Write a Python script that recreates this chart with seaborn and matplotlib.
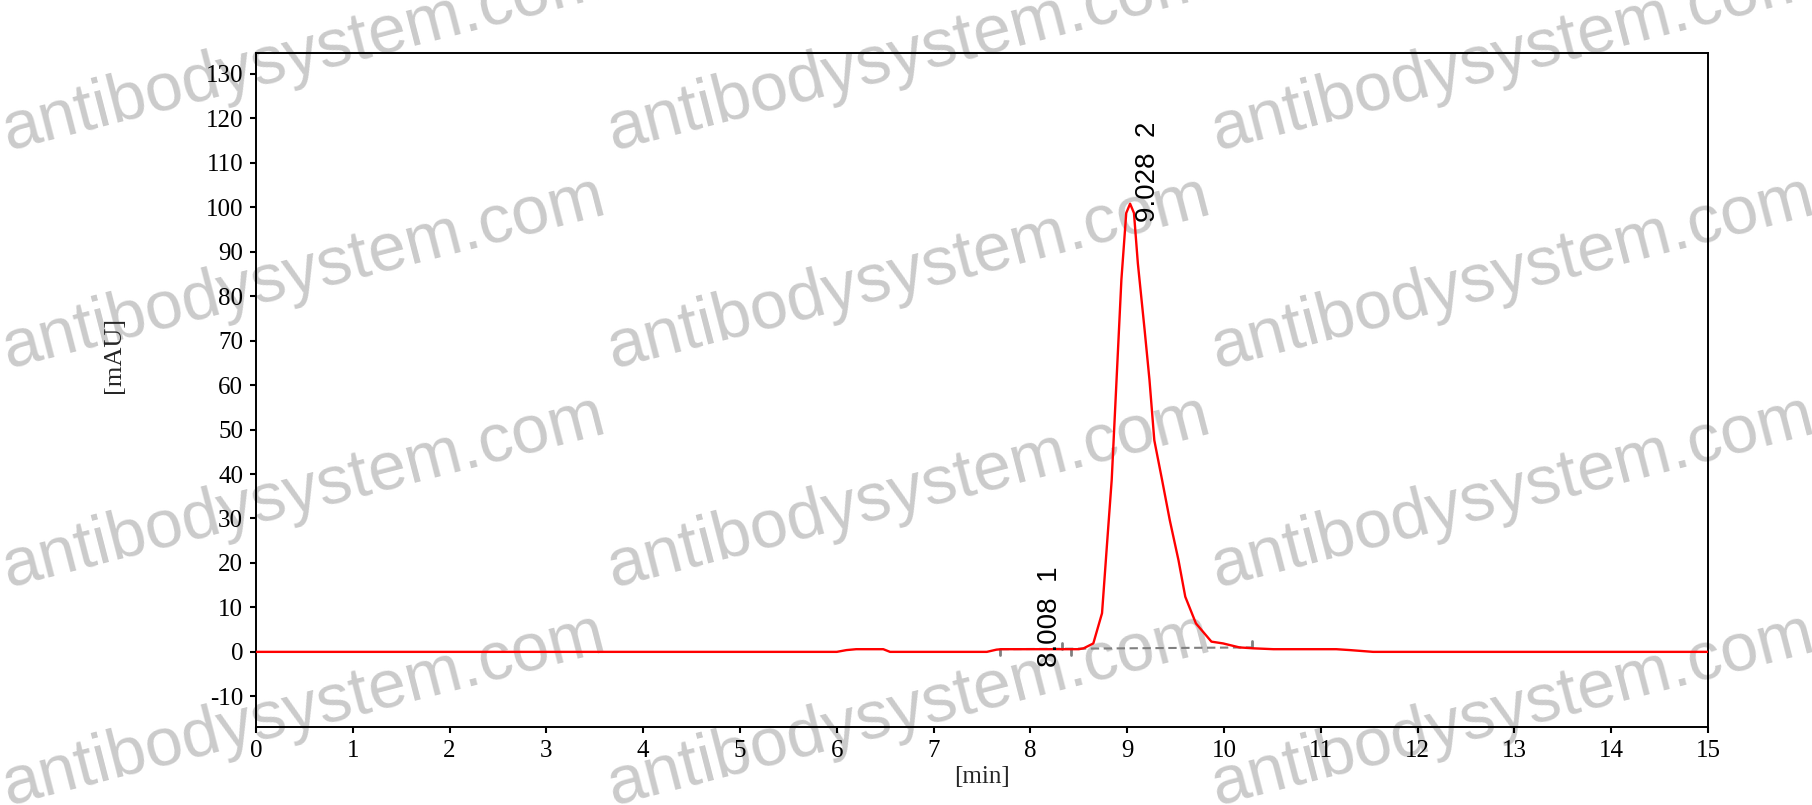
import numpy as np
import matplotlib
matplotlib.use("Agg")
import matplotlib.pyplot as plt
import seaborn as sns

# chromatogram trace
time_min = [0.0, 6.0, 6.1, 6.2, 6.48, 6.55, 7.55, 7.65, 7.7, 8.5, 8.55, 8.65,
            8.74, 8.79, 8.84, 8.89, 8.94, 8.99, 9.03, 9.07, 9.11, 9.18, 9.23,
            9.28, 9.36, 9.44, 9.53, 9.60, 9.71, 9.87, 9.99, 10.16, 10.30,
            10.51, 11.16, 11.30, 11.54, 15.0]
signal_mau = [0.0, 0.0, 0.4, 0.6, 0.6, 0.0, 0.0, 0.5, 0.6, 0.6, 0.8, 1.9,
              8.7, 23.8, 38.7, 61.2, 83.7, 98.7, 100.8, 98.7, 87.4, 72.4, 61.2,
              47.6, 38.7, 29.6, 20.6, 12.4, 6.4, 2.3, 1.9, 1.0, 0.8,
              0.6, 0.6, 0.4, 0.0, 0.0]

# integration baseline and its boundary marks
baseline_time = [7.69, 10.29]
baseline_level = [0.6, 1.0]
bound_time = [7.69, 8.33, 8.42, 10.29]
bound_side = [-1, 1, -1, 1]

# peak labels
peak_time = [8.008, 9.028]
peak_id = [1, 2]

x_ticks = list(range(0, 16))
y_ticks = list(range(-10, 140, 10))

watermark = "antibodysystem.com"

sns.set_theme(style="ticks")
plt.rcParams["font.family"] = ["Liberation Serif", "DejaVu Serif"]
plt.rcParams["axes.unicode_minus"] = False

fig = plt.figure(figsize=(18.12, 8.05), dpi=100)
ax = fig.add_axes([256 / 1812, 1 - 727 / 805, 1452 / 1812, 674 / 805])
ax.set_facecolor("none")

# watermark grid, drawn under the axes
for c in range(3):
    for r in range(4):
        fig.text((8 + 604.5 * c) / 1812, 1 - (150 + 218.5 * r) / 805, watermark,
                 rotation=14.5, rotation_mode="anchor", ha="left", va="baseline",
                 fontsize=49, family="Liberation Sans", color="#cbcbcb", zorder=-1)

sns.lineplot(x=baseline_time, y=baseline_level, ax=ax, color="#808080",
             linewidth=1.5, linestyle=(0, (4, 2.2)), zorder=2)
for t, s in zip(bound_time, bound_side):
    lev = np.interp(t, baseline_time, baseline_level)
    ax.plot([t, t], [lev, lev + 1.4 * s], color="#808080", linewidth=2, zorder=2)

sns.lineplot(x=time_min, y=signal_mau, ax=ax, color="#ff0000", linewidth=1.7,
             zorder=3, sort=False)

for t, pid in zip(peak_time, peak_id):
    h = np.interp(t, time_min, signal_mau)
    ax.text(t + 0.19, h - 4, f"{t:.3f}  {pid}", rotation=90, ha="center",
            va="bottom", fontsize=20, family="Liberation Sans", color="black")

ax.set_xlim(0, 15)
ax.set_ylim(-16.9, 134.7)
ax.set_xticks(x_ticks)
ax.set_yticks(y_ticks)
ax.tick_params(axis="both", direction="out", length=4.3, width=1.5,
               labelsize=18, colors="black", pad=5)
for sp in ax.spines.values():
    sp.set_visible(True)
    sp.set_linewidth(1.4)
    sp.set_color("black")

ax.set_xlabel("[min]", fontsize=18)
ax.set_ylabel("[mAU]", fontsize=19)
ax.xaxis.set_label_coords(0.5, -0.074)
ax.xaxis.label.set_va("center")
ax.yaxis.set_label_coords(-0.098, 0.552)
ax.yaxis.label.set_va("center")

fig.savefig("out.png", dpi=100)
